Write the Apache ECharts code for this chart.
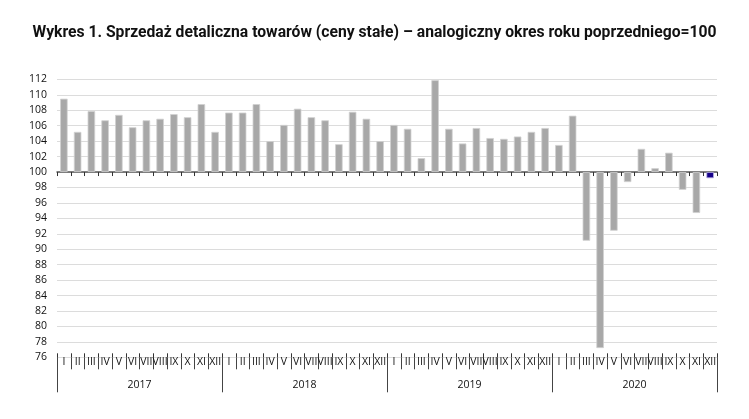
<!DOCTYPE html>
<html>
<head>
<meta charset="utf-8">
<script src="https://cdn.jsdelivr.net/npm/echarts@6/dist/echarts.min.js"></script>
<style>
html,body{margin:0;padding:0;background:#fff;}
#chart{width:749px;height:419px;}
</style>
</head>
<body>
<div id="chart"></div>
<script>
const titleText = 'Wykres 1. Sprzedaż detaliczna towarów (ceny stałe) – analogiczny okres roku poprzedniego=100';
const years = ['2017', '2018', '2019', '2020'];
const months = ['I','II','III','IV','V','VI','VII','VIII','IX','X','XI','XII'];
const values2017 = [109.5, 105.2, 107.9, 106.7, 107.4, 105.8, 106.7, 106.9, 107.5, 107.1, 108.8, 105.2];
const values2018 = [107.7, 107.7, 108.8, 104.0, 106.1, 108.2, 107.1, 106.7, 103.6, 107.8, 106.9, 104.0];
const values2019 = [106.1, 105.6, 101.8, 111.9, 105.6, 103.7, 105.7, 104.4, 104.3, 104.6, 105.2, 105.7];
const values2020 = [103.5, 107.3, 91.1, 77.2, 92.4, 98.7, 103.0, 100.5, 102.5, 97.7, 94.7, 99.2];
const baseline = 100;
const yMin = 76, yMax = 112, yStep = 2;

const categories = [];
years.forEach(y => months.forEach(m => categories.push(m + ' ' + y)));
const values = [].concat(values2017, values2018, values2019, values2020);
const monthLabels = [].concat(months, months, months, months);

const lastIdx = values.length - 1;
const seriesData = values.map((v, i) => {
  const d = { value: +(v - baseline).toFixed(2) };
  if (i === lastIdx) d.itemStyle = { color: '#16008a', borderColor: '#b9b3e0' };
  return d;
});

const chart = echarts.init(document.getElementById('chart'), null, { renderer: 'canvas' });
const labelFont = '"Open Sans", "Noto Sans", sans-serif';
chart.setOption({
  animation: false,
  backgroundColor: '#ffffff',
  title: {
    text: titleText,
    left: 'center',
    top: 20,
    textStyle: {
      fontFamily: 'Roboto, sans-serif',
      fontWeight: 'bold',
      fontSize: 15.7,
      color: '#111'
    }
  },
  grid: { left: 57, right: 32, top: 79.4, bottom: 61.7, containLabel: false },
  xAxis: [
    {
      type: 'category', data: categories, position: 'bottom',
      axisLine: { show: true, onZero: true, lineStyle: { color: '#555', width: 1.5 } },
      axisTick: { show: true, interval: 0, length: 4, inside: false, lineStyle: { color: '#333', width: 1 } },
      axisLabel: { show: false },
      splitLine: { show: false }
    },
    {
      type: 'category', data: categories, position: 'bottom',
      axisLine: { show: false, onZero: true },
      axisTick: { show: true, interval: 0, length: 4, inside: true, lineStyle: { color: '#333', width: 1 } },
      axisLabel: { show: false },
      splitLine: { show: false }
    },
    {
      type: 'category', data: monthLabels, position: 'bottom',
      axisLine: { show: false, onZero: false },
      axisTick: { show: true, interval: 0, length: 12, inside: false, lineStyle: { color: '#444', width: 1 } },
      axisLabel: { show: true, interval: 0, margin: -1, hideOverlap: false, fontSize: 10.5, fontFamily: labelFont, color: '#111' },
      splitLine: { show: false }
    },
    {
      type: 'category', data: years, position: 'bottom',
      axisLine: { show: false, onZero: false },
      axisTick: { show: true, interval: 0, length: 35, inside: false, lineStyle: { color: '#444', width: 1 } },
      axisLabel: { show: true, interval: 0, margin: 22, fontSize: 10.5, fontFamily: labelFont, color: '#111' },
      splitLine: { show: false }
    }
  ],
  yAxis: {
    type: 'value',
    min: yMin - baseline, max: yMax - baseline, interval: yStep,
    axisLine: { show: false },
    axisTick: { show: false },
    axisLabel: {
      margin: 10, fontSize: 10.5, fontFamily: labelFont, color: '#111',
      formatter: v => String(Math.round(v + baseline))
    },
    splitLine: { show: true, lineStyle: { color: '#dcdcdc', width: 1 } }
  },
  series: [{
    type: 'bar',
    xAxisIndex: 0,
    data: seriesData,
    barWidth: 7.5,
    itemStyle: { color: '#a8a8a8', borderColor: '#d0d0d0', borderWidth: 0.8 }
  }]
});
</script>
</body>
</html>
